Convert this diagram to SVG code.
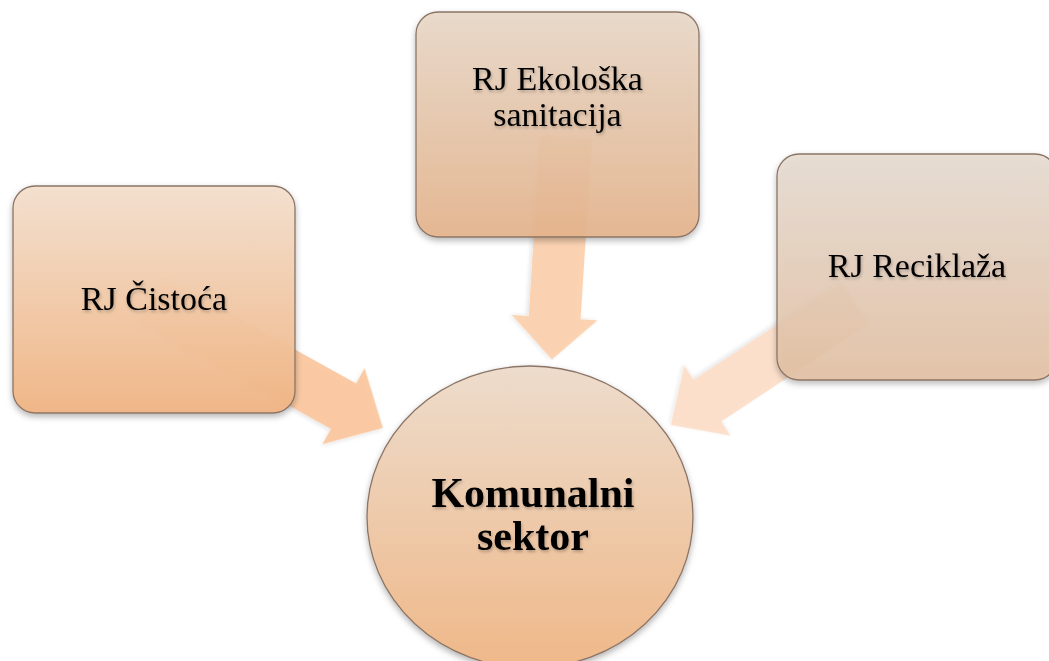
<svg xmlns="http://www.w3.org/2000/svg" width="1049" height="661" viewBox="0 0 1049 661">
<defs>
<linearGradient id="gL" x1="0" y1="0" x2="0" y2="1"><stop offset="0" stop-color="#f4e0ce"/><stop offset="1" stop-color="#f1b584"/></linearGradient>
<linearGradient id="gT" x1="0" y1="0" x2="0" y2="1"><stop offset="0" stop-color="#e9d9c9"/><stop offset="1" stop-color="#e6b48c"/></linearGradient>
<linearGradient id="gR" x1="0" y1="0" x2="0" y2="1"><stop offset="0" stop-color="#e7dcd1"/><stop offset="1" stop-color="#e4c0a2"/></linearGradient>
<linearGradient id="gC" x1="0" y1="0" x2="0" y2="1"><stop offset="0" stop-color="#eddccc"/><stop offset="1" stop-color="#efb889"/></linearGradient>
<filter id="sh" x="-10%" y="-10%" width="120%" height="125%"><feDropShadow dx="0" dy="3" stdDeviation="3" flood-color="#000" flood-opacity="0.3"/></filter>
<filter id="ash" x="-10%" y="-10%" width="120%" height="125%"><feDropShadow dx="0" dy="2" stdDeviation="2" flood-color="#000" flood-opacity="0.12"/></filter>
<filter id="ts" x="-10%" y="-20%" width="120%" height="150%"><feDropShadow dx="1" dy="2" stdDeviation="1.5" flood-color="#000" flood-opacity="0.25"/></filter>
</defs>
<style>
.box{stroke:#8c7566;stroke-width:1.3}
.t{font-family:"Liberation Serif","Times New Roman",serif;fill:#000;text-anchor:middle}
.arr{stroke:none}
</style>
<rect width="1049" height="661" fill="#ffffff"/>
<g id="connectors">
<polygon class="arr" fill="#fbc59b" fill-opacity="0.9" filter="url(#ash)" transform="translate(152,300) rotate(29)" points="0,-26 219,-26 219,-43.5 264,0 219,43.5 219,26 0,26"/>
<polygon class="arr" fill="#fccfab" fill-opacity="0.9" filter="url(#ash)" transform="translate(566,137) rotate(93.6)" points="0,-26 181,-26 181,-43 223,0 181,43 181,26 0,26"/>
<polygon class="arr" fill="#fddcc4" fill-opacity="0.85" filter="url(#ash)" transform="translate(855,303) rotate(146.5)" points="0,-25 177,-25 177,-42 221,0 177,42 177,25 0,25"/>
</g>
<g id="node-cistoca">
<rect class="box" x="13" y="186" width="282" height="227" rx="22" fill="url(#gL)" fill-opacity="0.95" filter="url(#sh)"/>
<text class="t" x="154" y="310" font-size="34" filter="url(#ts)">RJ Čistoća</text>
</g>
<g id="node-ekoloska">
<rect class="box" x="416" y="12" width="283" height="225" rx="22" fill="url(#gT)" fill-opacity="0.9" filter="url(#sh)"/>
<text class="t" x="557.5" y="90" font-size="34" filter="url(#ts)">RJ Ekološka</text>
<text class="t" x="557.5" y="126" font-size="34" filter="url(#ts)">sanitacija</text>
</g>
<g id="node-reciklaza">
<rect class="box" x="777" y="154" width="280" height="226" rx="22" fill="url(#gR)" fill-opacity="0.85" filter="url(#sh)"/>
<text class="t" x="917" y="277" font-size="34" filter="url(#ts)">RJ Reciklaža</text>
</g>
<g id="node-komunalni">
<ellipse class="box" cx="530" cy="517" rx="163" ry="151" fill="url(#gC)" filter="url(#sh)"/>
<text class="t" x="533" y="507" font-size="42" font-weight="bold" filter="url(#ts)">Komunalni</text>
<text class="t" x="533" y="550" font-size="42" font-weight="bold" filter="url(#ts)">sektor</text>
</g>
</svg>
